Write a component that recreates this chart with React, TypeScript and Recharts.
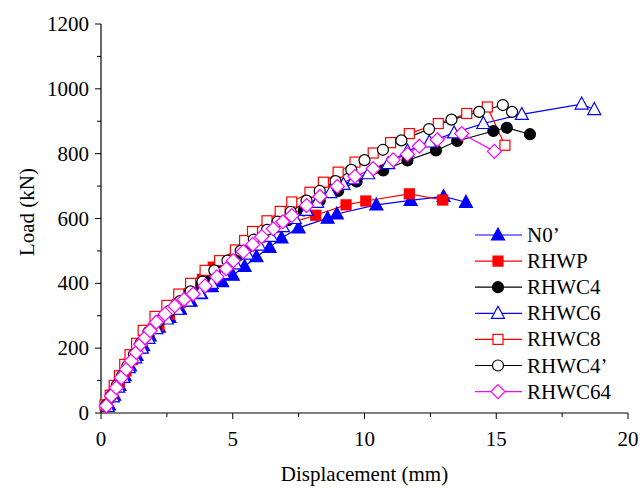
import React from 'react';
import { LineChart, Line, XAxis, YAxis, Legend } from 'recharts';

const FONT = '"Times New Roman", "Liberation Serif", serif';
const TEXT_STYLE = { fontFamily: FONT, fontSize: 21 };

// N0' (blue, filled triangle)
const n0X = [0.3, 0.5, 0.7, 0.9, 1.1, 1.35, 1.6, 1.85, 2.2, 2.6, 3.0, 3.4, 3.8, 4.2, 4.6, 5.0, 5.45, 5.9, 6.4, 6.85, 7.5, 8.6, 8.95, 10.45, 11.75, 13.0, 13.85];
const n0Y = [25, 55, 85, 115, 145, 178, 208, 238, 265, 295, 320, 345, 368, 390, 405, 425, 452, 482, 511, 540, 571, 601, 614, 642, 656, 668, 650];

// RHWP (red, filled square)
const rhwpX = [0.2, 0.45, 0.7, 0.95, 1.2, 1.5, 1.8, 2.2, 2.6, 3.0, 3.45, 3.85, 4.26, 6.85, 8.15, 9.3, 10.05, 11.7, 12.97];
const rhwpY = [20, 55, 95, 130, 165, 200, 235, 270, 305, 340, 378, 412, 450, 578, 610, 642, 654, 676, 657];

// RHWC4 (black, filled circle)
const c4X = [0.2, 0.4, 0.6, 0.8, 1.0, 1.25, 1.5, 1.8, 2.1, 2.5, 2.9, 3.3, 3.7, 4.2, 4.7, 5.2, 5.7, 6.2, 6.7, 7.1, 7.7, 8.3, 9.0, 9.7, 10.71, 11.63, 12.71, 13.52, 14.89, 15.4, 16.28];
const c4Y = [20, 50, 80, 110, 140, 175, 205, 240, 270, 305, 335, 365, 390, 420, 450, 485, 515, 545, 575, 595, 625, 655, 685, 714, 748, 779, 810, 839, 870, 880, 860];

// RHWC6 (blue, open triangle)
const c6X = [0.25, 0.45, 0.65, 0.85, 1.05, 1.3, 1.55, 1.8, 2.1, 2.5, 2.9, 3.3, 3.75, 4.2, 4.65, 5.1, 5.55, 6.0, 6.45, 6.9, 7.35, 7.8, 8.2, 8.7, 9.2, 9.6, 10.14, 10.9, 11.63, 12.46, 13.4, 14.51, 15.97, 18.24, 18.72];
const c6Y = [20, 50, 80, 110, 140, 170, 200, 230, 260, 290, 320, 345, 370, 400, 430, 460, 490, 518, 545, 575, 600, 625, 650, 680, 705, 722, 738, 769, 808, 836, 864, 893, 921, 953, 936];

// RHWC8 (red, open square)
const c8X = [0.15, 0.35, 0.5, 0.7, 0.9, 1.1, 1.35, 1.6, 2.05, 2.5, 2.95, 3.4, 3.95, 4.5, 5.1, 5.45, 5.75, 6.3, 6.8, 7.24, 7.93, 8.44, 9.0, 9.64, 10.33, 10.99, 11.7, 12.8, 13.88, 14.66, 15.33];
const c8Y = [25, 55, 85, 115, 150, 180, 215, 255, 298, 332, 367, 400, 440, 470, 503, 532, 560, 593, 622, 651, 681, 712, 743, 774, 802, 834, 862, 893, 924, 944, 826];

// RHWC4' (black, open circle)
const c4pX = [0.2, 0.4, 0.6, 0.8, 1.0, 1.25, 1.5, 1.8, 2.2, 2.6, 3.0, 3.4, 3.85, 4.3, 4.8, 5.3, 5.8, 6.3, 6.7, 7.2, 7.8, 8.3, 8.9, 9.5, 10.0, 10.7, 11.4, 12.45, 13.3, 14.35, 15.25, 15.6];
const c4pY = [25, 55, 85, 115, 145, 180, 215, 250, 285, 315, 345, 375, 405, 440, 470, 500, 535, 565, 590, 620, 655, 685, 715, 750, 780, 812, 841, 876, 905, 929, 950, 929];

// RHWC64 (magenta, open diamond)
const c64X = [0.2, 0.39, 0.58, 0.77, 0.96, 1.15, 1.34, 1.5, 1.67, 1.86, 2.1, 2.43, 2.8, 3.15, 3.5, 3.95, 4.4, 4.75, 5.02, 5.4, 5.76, 6.1, 6.54, 6.9, 7.24, 7.8, 8.31, 8.97, 9.64, 10.33, 11.09, 11.63, 12.08, 12.76, 13.69, 14.93];
const c64Y = [22, 53, 78, 109, 135, 161, 187, 212, 232, 254, 280, 305, 330, 350, 367, 392, 420, 445, 470, 498, 520, 544, 568, 590, 609, 640, 668, 699, 730, 754, 781, 798, 823, 843, 862, 807];

const xTicks = [0, 2.5, 5, 7.5, 10, 12.5, 15, 17.5, 20];
const yTicks = [0, 100, 200, 300, 400, 500, 600, 700, 800, 900, 1000, 1100, 1200];

type Shape = 'triangle' | 'square' | 'circle' | 'diamond';

const toPoints = (xs: number[], ys: number[]) => xs.map((x, i) => ({ x, y: ys[i] }));

const SERIES: { name: string; color: string; shape: Shape; filled: boolean; data: { x: number; y: number }[] }[] = [
  { name: 'N0\u2019', color: '#0000ff', shape: 'triangle', filled: true, data: toPoints(n0X, n0Y) },
  { name: 'RHWP', color: '#ff0000', shape: 'square', filled: true, data: toPoints(rhwpX, rhwpY) },
  { name: 'RHWC4', color: '#000000', shape: 'circle', filled: true, data: toPoints(c4X, c4Y) },
  { name: 'RHWC6', color: '#0000ff', shape: 'triangle', filled: false, data: toPoints(c6X, c6Y) },
  { name: 'RHWC8', color: '#ff0000', shape: 'square', filled: false, data: toPoints(c8X, c8Y) },
  { name: 'RHWC4\u2019', color: '#000000', shape: 'circle', filled: false, data: toPoints(c4pX, c4pY) },
  { name: 'RHWC64', color: '#ff00ff', shape: 'diamond', filled: false, data: toPoints(c64X, c64Y) },
];

const Marker = ({ cx, cy, shape, color, filled }: { cx: number; cy: number; shape: Shape; color: string; filled: boolean }) => {
  const fill = filled ? color : '#ffffff';
  if (cx == null || cy == null) return null;
  switch (shape) {
    case 'triangle':
      return <polygon points={`${cx},${cy - 7} ${cx - 6.5},${cy + 5} ${cx + 6.5},${cy + 5}`} fill={fill} stroke={color} strokeWidth={1.2} />;
    case 'square':
      return <rect x={cx - 5} y={cy - 5} width={10} height={10} fill={fill} stroke={color} strokeWidth={1.2} />;
    case 'circle':
      return <circle cx={cx} cy={cy} r={5.5} fill={fill} stroke={color} strokeWidth={1.2} />;
    default:
      return <polygon points={`${cx},${cy - 7} ${cx + 7},${cy} ${cx},${cy + 7} ${cx - 7},${cy}`} fill={fill} stroke={color} strokeWidth={1.2} />;
  }
};

const XTick = (props: any) => {
  const { x, y, payload } = props;
  const major = payload.value % 5 === 0;
  return (
    <g>
      <line x1={x} x2={x} y1={y} y2={y + (major ? 6 : 4)} stroke="#000" />
      {major && (
        <text x={x} y={y + 33} textAnchor="middle" fill="#000" style={TEXT_STYLE}>
          {payload.value}
        </text>
      )}
    </g>
  );
};

const YTick = (props: any) => {
  const { x, y, payload } = props;
  const major = payload.value % 200 === 0;
  return (
    <g>
      <line x1={x - (major ? 6 : 4)} x2={x} y1={y} y2={y} stroke="#000" />
      {major && (
        <text x={x - 12} y={y + 7} textAnchor="end" fill="#000" style={TEXT_STYLE}>
          {payload.value}
        </text>
      )}
    </g>
  );
};

const renderLegend = () => (
  <svg width={170} height={190}>
    {SERIES.map((s, i) => {
      const y = 15 + i * 26.1;
      return (
        <g key={s.name}>
          <line x1={5} x2={52} y1={y} y2={y} stroke={s.color} strokeWidth={1.2} />
          <Marker cx={28} cy={y} shape={s.shape} color={s.color} filled={s.filled} />
          <text x={57} y={y + 7} fill="#000" style={TEXT_STYLE}>{s.name}</text>
        </g>
      );
    })}
  </svg>
);

const App: React.FC = () => {
  return (
    <div style={{ position: 'absolute', left: 0, top: 0, width: 640, height: 491, background: '#fff' }}>
      <LineChart width={640} height={491} margin={{ top: 24, right: 12, bottom: 18, left: 31 }}>
        <XAxis
          type="number"
          dataKey="x"
          domain={[0, 20]}
          ticks={xTicks}
          interval={0}
          height={60}
          tickSize={0}
          tickMargin={0}
          tick={<XTick />}
          axisLine={{ stroke: '#000', strokeWidth: 1.2 }}
          tickLine={false}
          label={{
            content: (p: any) => (
              <text x={p.viewBox.x + p.viewBox.width / 2} y={p.viewBox.y + 68} textAnchor="middle" fill="#000" style={TEXT_STYLE}>
                Displacement (mm)
              </text>
            ),
          }}
        />
        <YAxis
          type="number"
          dataKey="y"
          domain={[0, 1200]}
          ticks={yTicks}
          interval={0}
          width={70}
          tickSize={0}
          tickMargin={0}
          tick={<YTick />}
          axisLine={{ stroke: '#000', strokeWidth: 1.2 }}
          tickLine={false}
          label={{
            content: () => (
              <text x={34} y={212} transform="rotate(-90, 34, 212)" textAnchor="middle" fill="#000" style={TEXT_STYLE}>
                Load (kN)
              </text>
            ),
          }}
        />
        {SERIES.map((s) => (
          <Line
            key={s.name}
            data={s.data}
            dataKey="y"
            name={s.name}
            type="linear"
            stroke={s.color}
            strokeWidth={1.2}
            isAnimationActive={false}
            activeDot={false}
            dot={(p: any) => (
              <Marker key={`${s.name}-${p.index}`} cx={p.cx} cy={p.cy} shape={s.shape} color={s.color} filled={s.filled} />
            )}
          />
        ))}
        <Legend
          layout="horizontal"
          verticalAlign="middle"
          align="center"
          content={renderLegend}
          wrapperStyle={{ left: 470, top: 220, width: 170, height: 190 }}
        />
      </LineChart>
    </div>
  );
};

export default App;
